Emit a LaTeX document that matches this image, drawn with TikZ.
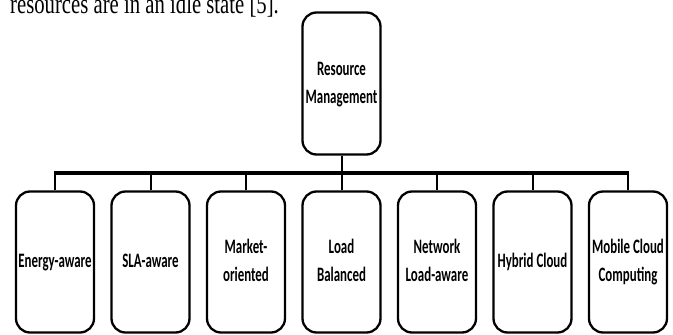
\documentclass[tikz,border=0pt]{standalone}
\usepackage{fontspec}
\setmainfont{Liberation Serif}
\newfontfamily\boxfont{Carlito}
\usetikzlibrary{calc}

% narrow bold label, one or more lines
\newcommand{\boxlabel}[1]{\scalebox{0.63}[1]{\begin{tabular}{@{}c@{}}#1\end{tabular}}}

\tikzset{
  catbox/.style={draw=black, line width=2.3pt, rounded corners=14pt,
    minimum width=78pt, minimum height=141pt, inner sep=0pt,
    font=\boxfont\bfseries\fontsize{20.5}{28}\selectfont, align=center},
  bus/.style={draw=black, line width=4pt},
  stub/.style={draw=black, line width=2pt},
}

\begin{document}
\begin{tikzpicture}[x=1pt, y=-1pt]
  \useasboundingbox[fill=white] (0,0) rectangle (673,335);
  \begin{scope}
    \clip (0,0) rectangle (673,335);

    % running text line above the figure, partly outside the frame
    \node[anchor=base west, inner sep=0pt, font=\fontsize{28}{32}\selectfont]
      (caption) at (10,13) {\scalebox{0.74}[1]{resources are in an idle state [5].}};

    % root
    \node[catbox, minimum height=142pt] (root) at (341.5,83.5)
      {\boxlabel{Resource\\Management}};

    % categories
    \node[catbox] (b1) at (55,262)    {\boxlabel{Energy-aware}};
    \node[catbox] (b2) at (150.5,262) {\boxlabel{SLA-aware}};
    \node[catbox] (b3) at (246,262)   {\boxlabel{Market-\\oriented}};
    \node[catbox] (b4) at (341.5,262) {\boxlabel{Load\\Balanced}};
    \node[catbox] (b5) at (437,262)   {\boxlabel{Network\\Load-aware}};
    \node[catbox] (b6) at (532.5,262) {\boxlabel{Hybrid Cloud}};
    \node[catbox] (b7) at (628,262)   {\boxlabel{Mobile Cloud\\Computing}};

    % horizontal bus
    \coordinate (busL) at (55,173);
    \coordinate (busR) at (628,173);
    \coordinate (busM) at (341.5,173);
    \draw[bus] ($(busL)+(-1,0)$) -- ($(busR)+(1,0)$);

    % root down to bus
    \draw[stub] (root.south) -- (busM);

    % bus down to each category
    \foreach \n in {b1,b2,b3,b4,b5,b6,b7}
      \draw[stub] (\n.north) -- (\n.north |- busL);
  \end{scope}
\end{tikzpicture}
\end{document}
